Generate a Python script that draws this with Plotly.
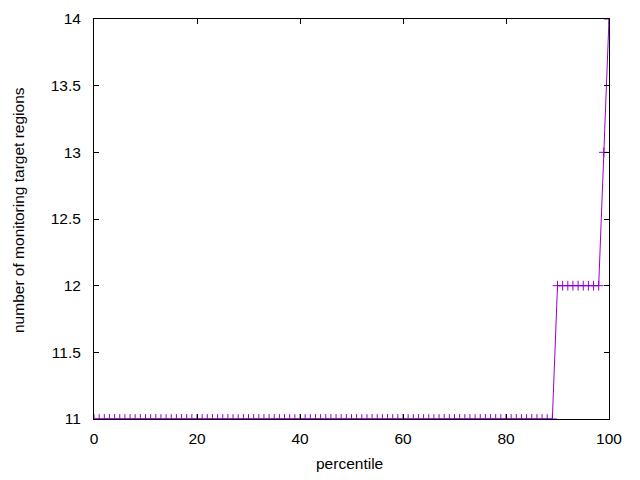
import plotly.graph_objects as go

percentile = list(range(0, 101))
regions = [11] * 90 + [12] * 9 + [13, 14]

x_ticks = [0, 20, 40, 60, 80, 100]
y_ticks = [11, 11.5, 12, 12.5, 13, 13.5, 14]
y_tick_labels = ["11", "11.5", "12", "12.5", "13", "13.5", "14"]

FONT = "Liberation Sans, Arial, sans-serif"
FS = 15.5

fig = go.Figure()
fig.add_trace(go.Scatter(
    x=percentile, y=regions, mode="lines+markers",
    line=dict(color="#9400D3", width=1),
    marker=dict(symbol="cross-thin-open", size=7, color="#9400D3",
                line=dict(width=1, color="#9400D3")),
    showlegend=False))

axis_common = dict(
    showgrid=False, zeroline=False, showline=True, linecolor="black", linewidth=1,
    mirror="ticks", ticks="inside", ticklen=5, tickcolor="black", tickwidth=1,
    tickfont=dict(family=FONT, size=FS, color="black"),
)
fig.update_layout(
    width=640, height=480,
    margin=dict(l=86, r=39, t=11, b=69, autoexpand=False),
    paper_bgcolor="white", plot_bgcolor="white",
    font=dict(family=FONT, size=FS, color="black"),
    xaxis=dict(range=[0, 100], tickvals=x_ticks, ticklabelstandoff=5, **axis_common),
    yaxis=dict(range=[11, 14], tickvals=y_ticks, ticktext=y_tick_labels,
               ticklabelstandoff=9, **axis_common),
    annotations=[
        dict(text="percentile", xref="paper", yref="paper", x=0.5, y=0,
             xanchor="center", yanchor="middle", xshift=-2, yshift=-44,
             showarrow=False, font=dict(family=FONT, size=FS, color="black")),
        dict(text="number of monitoring target regions", xref="paper", yref="paper",
             x=0, y=0.5, xanchor="center", yanchor="middle", textangle=-90,
             xshift=-76, yshift=9, showarrow=False,
             font=dict(family=FONT, size=FS, color="black")),
    ],
)
fig.write_html("out.html")
